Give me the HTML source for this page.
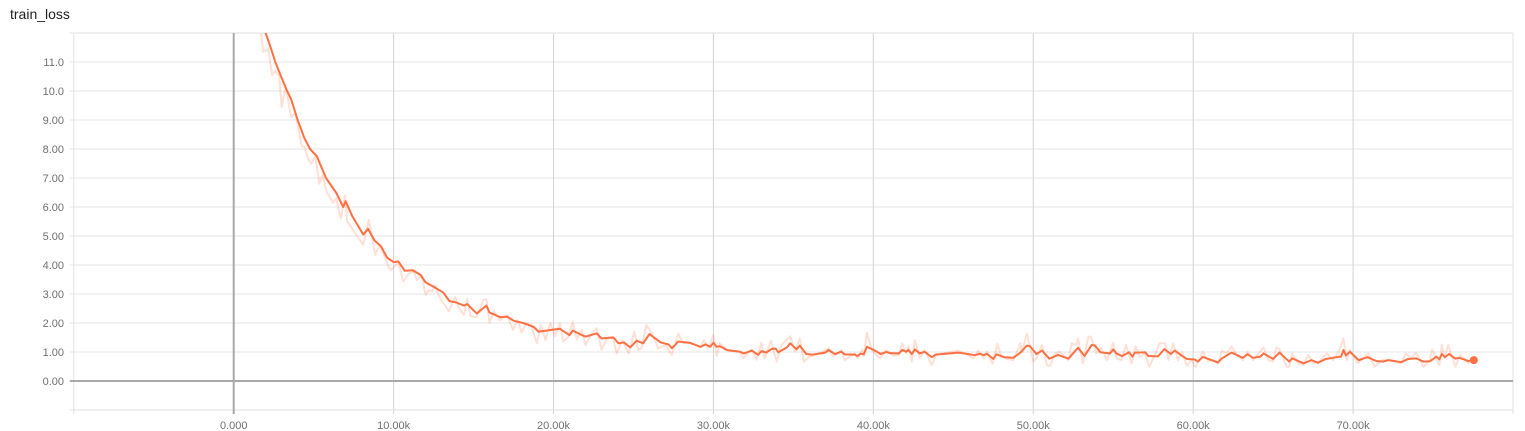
<!DOCTYPE html>
<html lang="en">
<head>
<meta charset="utf-8">
<title>train_loss</title>
<style>
html,body{margin:0;padding:0;background:#fff;width:1525px;height:431px;overflow:hidden}
svg{display:block;font-family:"Liberation Sans",sans-serif}
</style>
</head>
<body>
<svg id="chart" width="1525" height="431" viewBox="0 0 1525 431" xmlns="http://www.w3.org/2000/svg">
<defs><clipPath id="plot-clip"><rect x="73.8" y="33" width="1439.2" height="377"></rect></clipPath></defs>
<rect width="1525" height="431" fill="#ffffff"></rect>
<text x="10" y="19" font-size="14" fill="#212121">train_loss</text>
<g id="grid"></g>
<g id="axes"></g>
<g id="marks" clip-path="url(#plot-clip)"></g>
<g id="dot"></g>
</svg>
<script>
const xTicks = [0, 10, 20, 30, 40, 50, 60, 70];
const xTickLabels = ["0.000", "10.00k", "20.00k", "30.00k", "40.00k", "50.00k", "60.00k", "70.00k"];
const yTicks = [11, 10, 9, 8, 7, 6, 5, 4, 3, 2, 1, 0];
const yTickLabels = ["11.0", "10.0", "9.00", "8.00", "7.00", "6.00", "5.00", "4.00", "3.00", "2.00", "1.00", "0.00"];

const rawSteps = [1.4,1.85,2.15,2.4,2.6,2.85,3,3.25,3.6,3.85,4.25,4.45,4.65,4.85,5.1,5.35,5.55,5.8,6.2,6.4,6.7,6.95,7.1,7.4,8.1,8.45,8.85,9.15,9.7,9.85,10.3,10.6,10.95,11.25,11.45,11.75,12,12.2,12.4,12.6,12.8,13.45,13.85,14.05,14.4,14.6,14.8,15.2,15.6,15.8,16,16.25,16.67,17.1,17.45,17.75,18,18.3,18.6,18.95,19.2,19.5,19.8,20.1,20.4,20.6,20.95,21.2,21.45,21.75,22,22.35,22.7,23,23.35,23.7,23.95,24.3,24.7,25.05,25.3,25.5,25.8,26.15,26.55,27,27.4,27.8,28.1,28.65,29.2,29.4,29.7,30,30.2,30.4,30.85,31.65,31.85,32.4,32.7,33,33.2,33.6,33.95,34.25,34.8,35.1,35.4,35.65,36,36.65,37.2,37.5,38,38.2,38.85,39,39.3,39.4,39.6,39.9,40.4,40.8,41.25,41.6,41.8,42.05,42.2,42.4,42.6,42.9,43.2,43.65,43.95,44.7,45.3,45.9,46.25,46.55,46.9,47.1,47.45,47.75,48,48.45,48.75,49.2,49.3,49.6,50,50.2,50.55,50.85,51.05,51.35,51.65,52.2,52.4,52.7,52.8,53.1,53.45,53.6,53.95,54.25,54.6,55,55.2,55.5,55.8,56.15,56.4,56.65,57,57.25,57.6,57.9,58.25,58.45,58.75,59.05,59.3,59.6,59.9,60.15,60.6,60.95,61.25,61.55,61.8,62.1,62.4,62.7,63.1,63.4,63.75,64.4,64.7,65,65.2,65.4,65.85,66,66.2,66.55,66.9,67.2,67.5,67.8,68.35,68.75,69.1,69.4,69.6,69.8,70.3,70.95,71.35,71.8,72.2,73,73.3,73.6,73.95,74.4,74.8,74.95,75.4,75.55,75.7,75.95,76.4,76.7,77.2,77.55];
const rawLoss = [13.5,11.35,11.45,10.55,10.7,10.5,9.45,10.15,9.1,9.25,8.1,8.05,7.65,7.5,7.75,6.8,7.1,6.55,6.15,6.3,5.6,6.4,5.5,5.26,4.7,5.55,4.35,4.7,3.9,3.83,4.1,3.43,3.7,3.78,3.48,3.65,2.97,3.14,3.08,3.3,2.97,2.4,2.9,2.56,2.28,2.85,2.24,2.2,2.8,2.82,2,2.4,2.1,2.28,1.76,2.1,1.67,2,1.93,1.3,1.93,1.41,2,1.55,2,1.36,1.53,2.05,1.44,1.76,1.24,1.59,1.82,1.07,1.47,1.53,0.95,1.41,0.95,1.7,1.07,1.13,1.93,1.64,1.13,1.24,0.9,1.64,1.3,1.3,1.16,1.41,1.13,1.59,0.86,1.3,1.05,1.01,0.78,1.09,0.72,1.32,0.78,1.39,0.67,1.24,1.55,1.01,1.47,0.67,0.84,0.95,1.13,0.84,1.07,0.72,0.95,0.78,1.07,0.84,1.67,1.07,0.78,1.05,0.86,0.9,1.3,0.95,1.2,0.67,1.41,0.78,1.07,0.55,0.93,0.98,1.05,0.9,0.78,1.05,0.78,1.01,0.59,1.28,0.84,0.75,0.72,1.3,1,1.64,0.67,0.78,1.24,0.55,0.52,0.95,1.01,0.72,1.3,1.24,1.47,0.61,1.53,1.53,0.95,1.13,0.72,1.32,0.78,0.72,1.24,0.61,1.2,0.84,0.95,0.49,0.9,1.3,1.3,0.72,1.3,0.72,1.01,0.52,0.72,0.47,1.01,0.67,0.72,0.59,1.05,0.95,1.2,0.9,0.72,1.01,0.72,1.16,0.72,0.67,1.16,1.09,0.49,0.49,0.95,0.61,0.55,0.9,0.61,0.61,0.95,0.72,1.01,1.47,0.72,1.07,0.61,0.95,0.49,0.72,0.72,0.61,0.95,0.78,0.98,0.49,0.72,1.09,0.55,1.26,0.78,1.24,0.49,0.9,0.61,0.72];

const smoothSteps = [1.6,2,2.4,2.6,3,3.3,3.6,4,4.4,4.77,5.2,5.77,6.4,6.85,7,7.4,8.1,8.4,8.8,9.2,9.6,10,10.3,10.7,11.2,11.7,12,12.5,13.1,13.5,13.85,14.4,14.6,15.2,15.8,16,16.67,17.1,17.5,18.1,18.75,19.06,19.8,20.4,21,21.2,21.7,22,22.7,23,23.75,24.06,24.4,24.8,25.2,25.6,26,26.7,27.2,27.4,27.8,28.5,29.2,29.5,29.8,30,30.2,30.4,30.85,31.65,31.9,32.4,32.8,33,33.3,33.65,33.9,34.06,34.6,34.8,35.2,35.4,35.8,36.2,37,37.2,37.6,38,38.2,38.85,39,39.2,39.4,39.6,40.1,40.45,40.8,41.1,41.6,41.8,42.05,42.2,42.4,42.6,42.9,43.2,43.65,43.9,44.7,45.3,45.9,46.35,46.65,46.9,47.1,47.5,47.7,48.2,48.75,49.2,49.6,49.8,50.2,50.55,51,51.55,52.2,52.8,53.2,53.65,53.85,54.2,54.8,55,55.2,55.55,56,56.2,56.35,57,57.2,57.8,58.2,58.6,58.85,59.3,59.6,60.1,60.3,60.6,61.55,61.8,62.4,63.1,63.4,63.75,64.2,64.4,65,65.4,66,66.2,66.9,67.4,67.8,68.3,69.05,69.25,69.4,69.55,69.8,70.35,70.9,71.45,71.9,72.2,73,73.45,73.95,74.4,74.8,75.2,75.4,75.55,75.75,76,76.4,76.65,77.2,77.55];
const smoothLoss = [12.9,12,11.35,11,10.45,10.05,9.7,9,8.4,8,7.75,7,6.5,6,6.2,5.7,5.05,5.25,4.85,4.65,4.25,4.1,4.12,3.8,3.82,3.65,3.4,3.25,3.05,2.75,2.72,2.6,2.65,2.33,2.6,2.36,2.2,2.22,2.08,2,1.87,1.7,1.76,1.8,1.58,1.74,1.6,1.53,1.64,1.47,1.5,1.3,1.33,1.16,1.39,1.3,1.62,1.33,1.26,1.13,1.36,1.32,1.18,1.26,1.18,1.32,1.18,1.2,1.07,1.01,0.95,1.05,0.9,1.03,0.98,1.11,1.11,0.99,1.16,1.3,1.09,1.22,0.93,0.91,0.98,1.07,0.93,1.01,0.92,0.91,0.86,0.94,0.92,1.18,1.05,0.93,1,0.96,0.95,1.07,1.01,1.07,0.93,1.09,0.95,1.01,0.82,0.91,0.95,0.98,0.93,0.89,0.94,0.89,0.94,0.76,0.92,0.82,0.8,0.98,1.22,1.2,0.93,1.05,0.77,0.9,0.77,1.15,0.86,1.24,1.23,0.99,0.95,1.09,0.95,0.86,0.99,0.84,0.98,0.99,0.86,0.85,1.1,0.93,1.05,0.87,0.76,0.74,0.67,0.83,0.64,0.78,0.98,0.8,0.92,0.8,0.84,0.95,0.76,0.98,0.67,0.78,0.61,0.72,0.63,0.76,0.83,0.84,1.07,0.88,1.01,0.72,0.82,0.69,0.67,0.72,0.65,0.76,0.78,0.67,0.68,0.84,0.75,0.93,0.82,0.93,0.77,0.8,0.69,0.72];

const NS = "http://www.w3.org/2000/svg";
const xDomain = [-10, 80], xRange = [73.8, 1513];
const yDomain = [-1, 12], yRange = [410, 33];
function xScale(v) { return xRange[0] + (v - xDomain[0]) / (xDomain[1] - xDomain[0]) * (xRange[1] - xRange[0]); }
function yScale(v) { return yRange[0] + (v - yDomain[0]) / (yDomain[1] - yDomain[0]) * (yRange[1] - yRange[0]); }
function make(tag, attrs, parent) {
  const el = document.createElementNS(NS, tag);
  for (const k in attrs) el.setAttribute(k, attrs[k]);
  parent.appendChild(el);
  return el;
}
function pathFrom(xs, ys) {
  return xs.map((s, i) => (i ? "L" : "M") + xScale(s).toFixed(2) + " " + yScale(ys[i]).toFixed(2)).join("");
}
const grid = document.getElementById("grid");
const axes = document.getElementById("axes");
const marks = document.getElementById("marks");
const dotLayer = document.getElementById("dot");

yTicks.forEach((t, i) => {
  const y = yScale(t);
  const line = make("line", {x1: xRange[0] - 4, x2: xRange[1], y1: y, y2: y, stroke: t === 0 ? "#a9a9a9" : "#e6e6e6", "stroke-width": t === 0 ? 2 : 1}, t === 0 ? axes : grid);
  
  
  const label = make("text", {x: 64, y: y + 4, "text-anchor": "end", "font-size": 11, fill: "#707070"}, axes);
  label.textContent = yTickLabels[i];
  
  
});
xTicks.forEach((t, i) => {
  const x = xScale(t);
  const line = make("line", {x1: x, x2: x, y1: yRange[1], y2: yRange[0] + 4, stroke: t === 0 ? "#a9a9a9" : "#d2d2d2", "stroke-width": t === 0 ? 2 : 1}, t === 0 ? axes : grid);
  
  
  const label = make("text", {x: x, y: 429, "text-anchor": "middle", "font-size": 11, fill: "#707070"}, axes);
  label.textContent = xTickLabels[i];
  
  
});

const frame = make("path", {d: "M69.8 33H1513M69.8 410H1513M73.8 33V414M1513 33V414", fill: "none", stroke: "#e0e0e0", "stroke-width": 1}, grid);



const rawLine = make("path", {d: pathFrom(rawSteps, rawLoss), fill: "none", stroke: "#ff7043", "stroke-opacity": 0.22, "stroke-width": 2, "stroke-linejoin": "round"}, marks);



const smoothLine = make("path", {d: pathFrom(smoothSteps, smoothLoss), fill: "none", stroke: "#ff7043", "stroke-width": 2, "stroke-linejoin": "round"}, marks);



const last = smoothSteps.length - 1;
const endDot = make("circle", {cx: xScale(smoothSteps[last]), cy: yScale(smoothLoss[last]), r: 4, fill: "#ff7043"}, dotLayer);


</script>
</body>
</html>
